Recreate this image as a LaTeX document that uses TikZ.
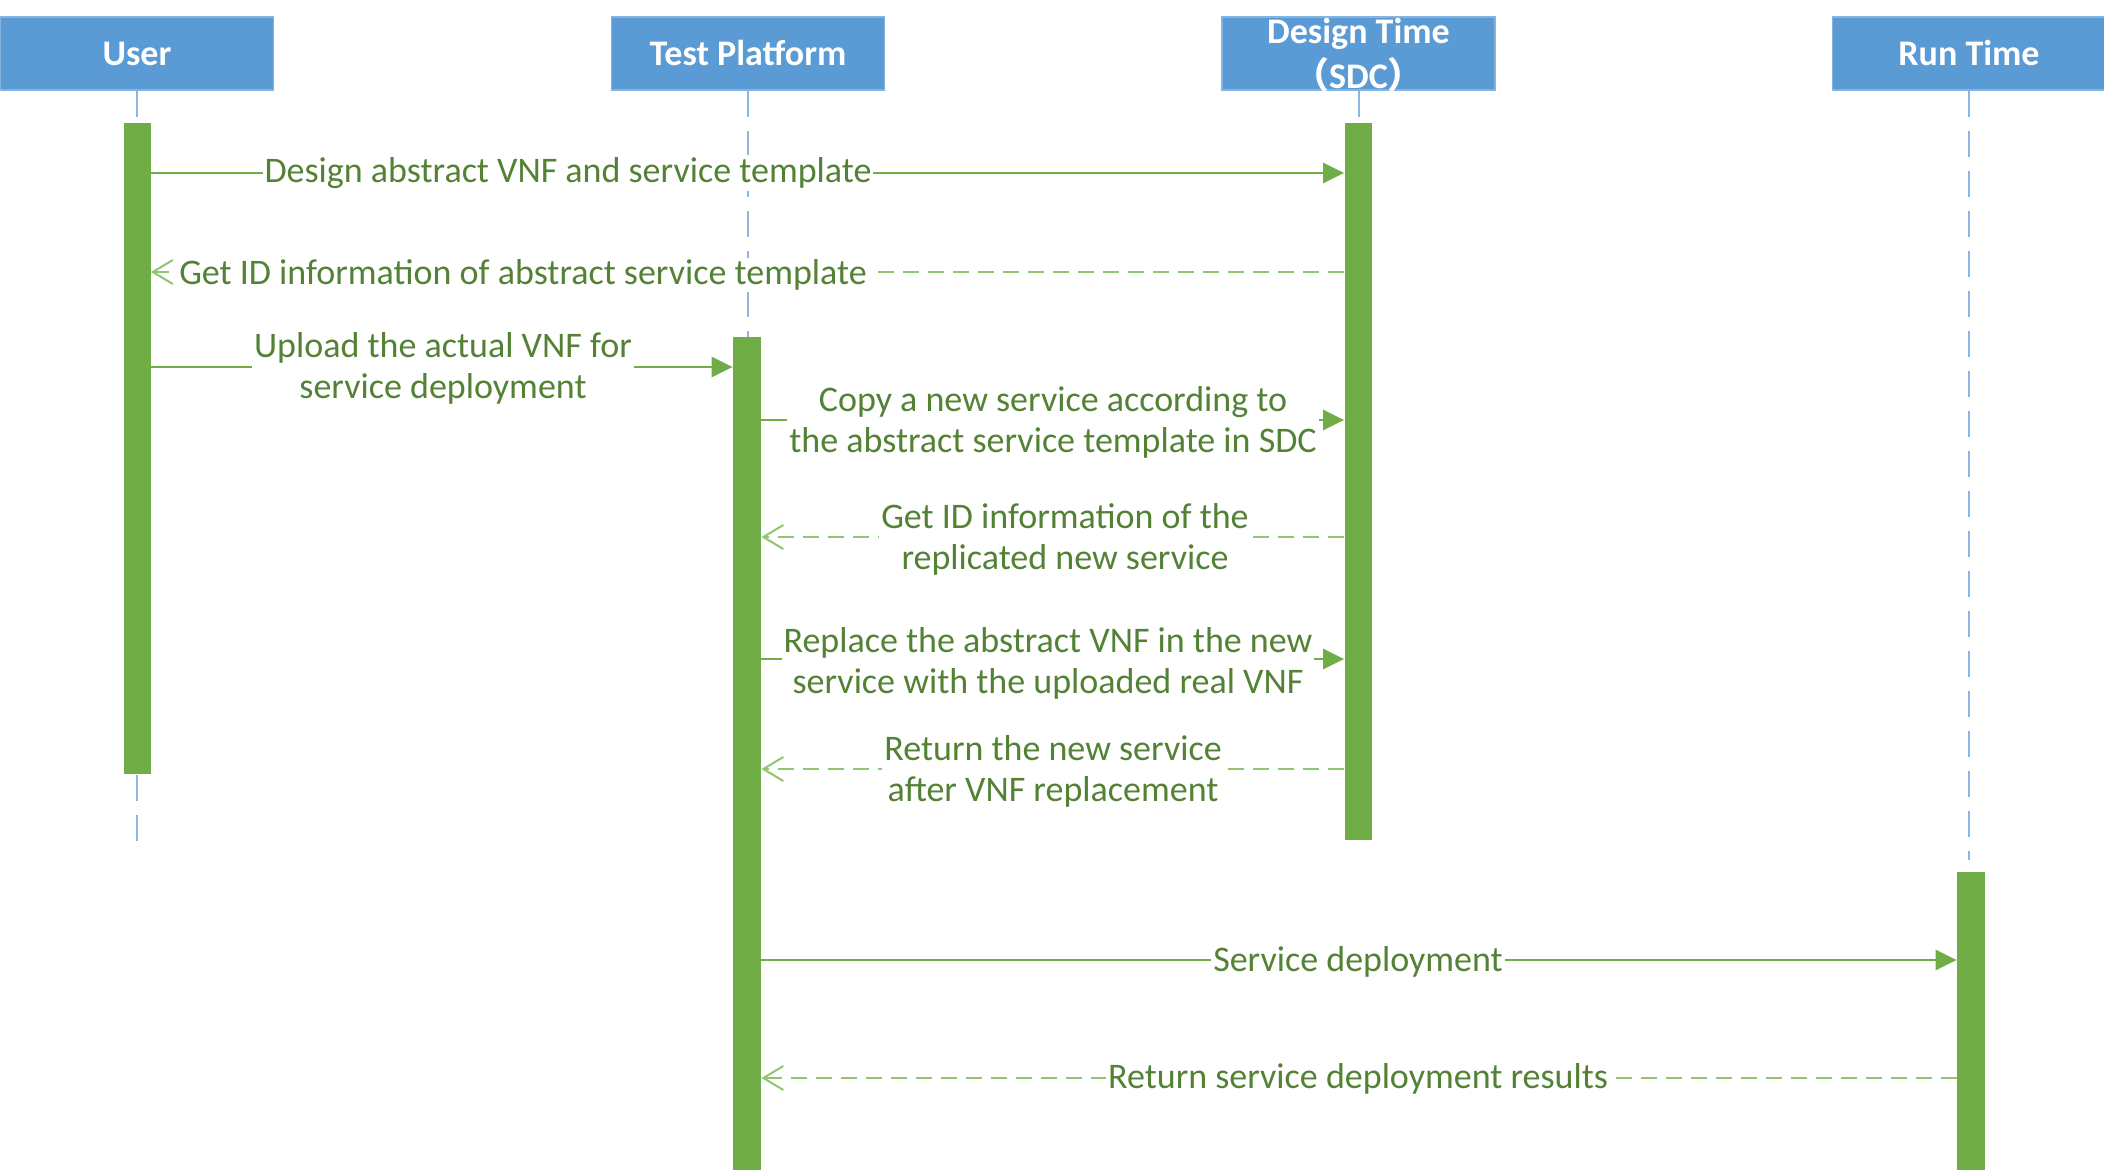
\documentclass[tikz,border=0pt]{standalone}
\usepackage{fontspec}
\setmainfont{Carlito}
\newfontfamily\cjk{Noto Sans CJK SC}
\usetikzlibrary{arrows.meta}
\definecolor{hdr}{HTML}{5B9BD5}
\definecolor{barc}{HTML}{70AD47}
\definecolor{msgc}{HTML}{70AD47}
\definecolor{retc}{HTML}{92C572}
\definecolor{txtc}{HTML}{548235}
\definecolor{lifec}{HTML}{8FB8E0}
\begin{document}
\begin{tikzpicture}[x=0.5pt,y=-0.5pt,
  header/.style={fill=hdr, draw=hdr!75!white, line width=0.8pt, text=white,
    font=\fontsize{18}{22.5}\selectfont\bfseries, minimum width=136.5pt,
    minimum height=36.5pt, inner sep=0pt, align=center},
  actbar/.style={fill=barc, draw=none, inner sep=0pt, anchor=north},
  lifeline/.style={draw=lifec, line width=1pt, dash pattern=on 13pt off 7pt},
  callmsg/.style={draw=msgc, line width=1.2pt, -{Triangle[length=10.5pt,width=10pt]}},
  replymsg/.style={draw=retc, line width=1.2pt, dash pattern=on 8pt off 4.5pt,
    -{Straight Barb[length=10pt,width=12pt,line width=1pt]}},
  lbl/.style={fill=white, text=txtc, font=\fontsize{18}{20.5}\selectfont,
    inner sep=1pt, align=center}
]
\useasboundingbox (0,0) rectangle (2104,1170);
% headers
\node[header] (u) at (137,53.5) {User};
\node[header] (t) at (748,53.5) {Test Platform};
\node[header] (d) at (1358.5,53.5) {\raisebox{-6pt}[0pt][0pt]{\begin{tabular}{@{}c@{}}Design Time\\{\cjk （}SDC{\cjk ）}\end{tabular}}};
\node[header] (r) at (1969,53.5) {Run Time};
% activation bars
\node[actbar, minimum width=13.5pt, minimum height=325.5pt] (ub) at (137,123) {};
\node[actbar, minimum width=14pt, minimum height=420pt] (tb) at (747,337) {};
\node[actbar, minimum width=13.5pt, minimum height=358.5pt] (db) at (1358,123) {};
\node[actbar, minimum width=14pt, minimum height=152pt] (rb) at (1971,872) {};
% lifelines
\coordinate (uend) at (137,853);
\coordinate (rend) at (1969,860);
\draw[lifeline] (u.south) -- (u.south |- ub.north);
\draw[lifeline] (ub.south) -- (uend);
\draw[lifeline] (t.south) -- (t.south |- tb.north);
\draw[lifeline] (d.south) -- (d.south |- db.north);
\draw[lifeline] (r.south) -- (rend);
% messages
\draw[callmsg] (ub.east |- 0,173) -- (db.west |- 0,173);
\draw[replymsg] (db.west |- 0,272) -- (ub.east |- 0,272);
\draw[callmsg] (ub.east |- 0,367) -- (tb.west |- 0,367);
\draw[callmsg] (tb.east |- 0,420) -- (db.west |- 0,420);
\draw[replymsg] (db.west |- 0,537) -- (tb.east |- 0,537);
\draw[callmsg] (tb.east |- 0,659) -- (db.west |- 0,659);
\draw[replymsg] (db.west |- 0,769) -- (tb.east |- 0,769);
\draw[callmsg] (tb.east |- 0,960) -- (rb.west |- 0,960);
\draw[replymsg] (rb.west |- 0,1078) -- (tb.east |- 0,1078);
% labels
\node[lbl] (m1) at (568,173) {Design abstract VNF and service template};
\node[lbl] (m2) at (523,275) {Get ID information of abstract service template};
\node[lbl] (m3) at (443,368) {Upload the actual VNF for\\service deployment};
\node[lbl] (m4) at (1053,422) {Copy a new service according to\\the abstract service template in SDC};
\node[lbl] (m5) at (1065,539) {Get ID information of the\\replicated new service};
\node[lbl] (m6) at (1048,663) {Replace the abstract VNF in the new\\service with the uploaded real VNF};
\node[lbl] (m7) at (1053,771) {Return the new service\\after VNF replacement};
\node[lbl] (m8) at (1358,962) {Service deployment};
\node[lbl] (m9) at (1358,1079) {Return service deployment results};
\end{tikzpicture}
\end{document}
